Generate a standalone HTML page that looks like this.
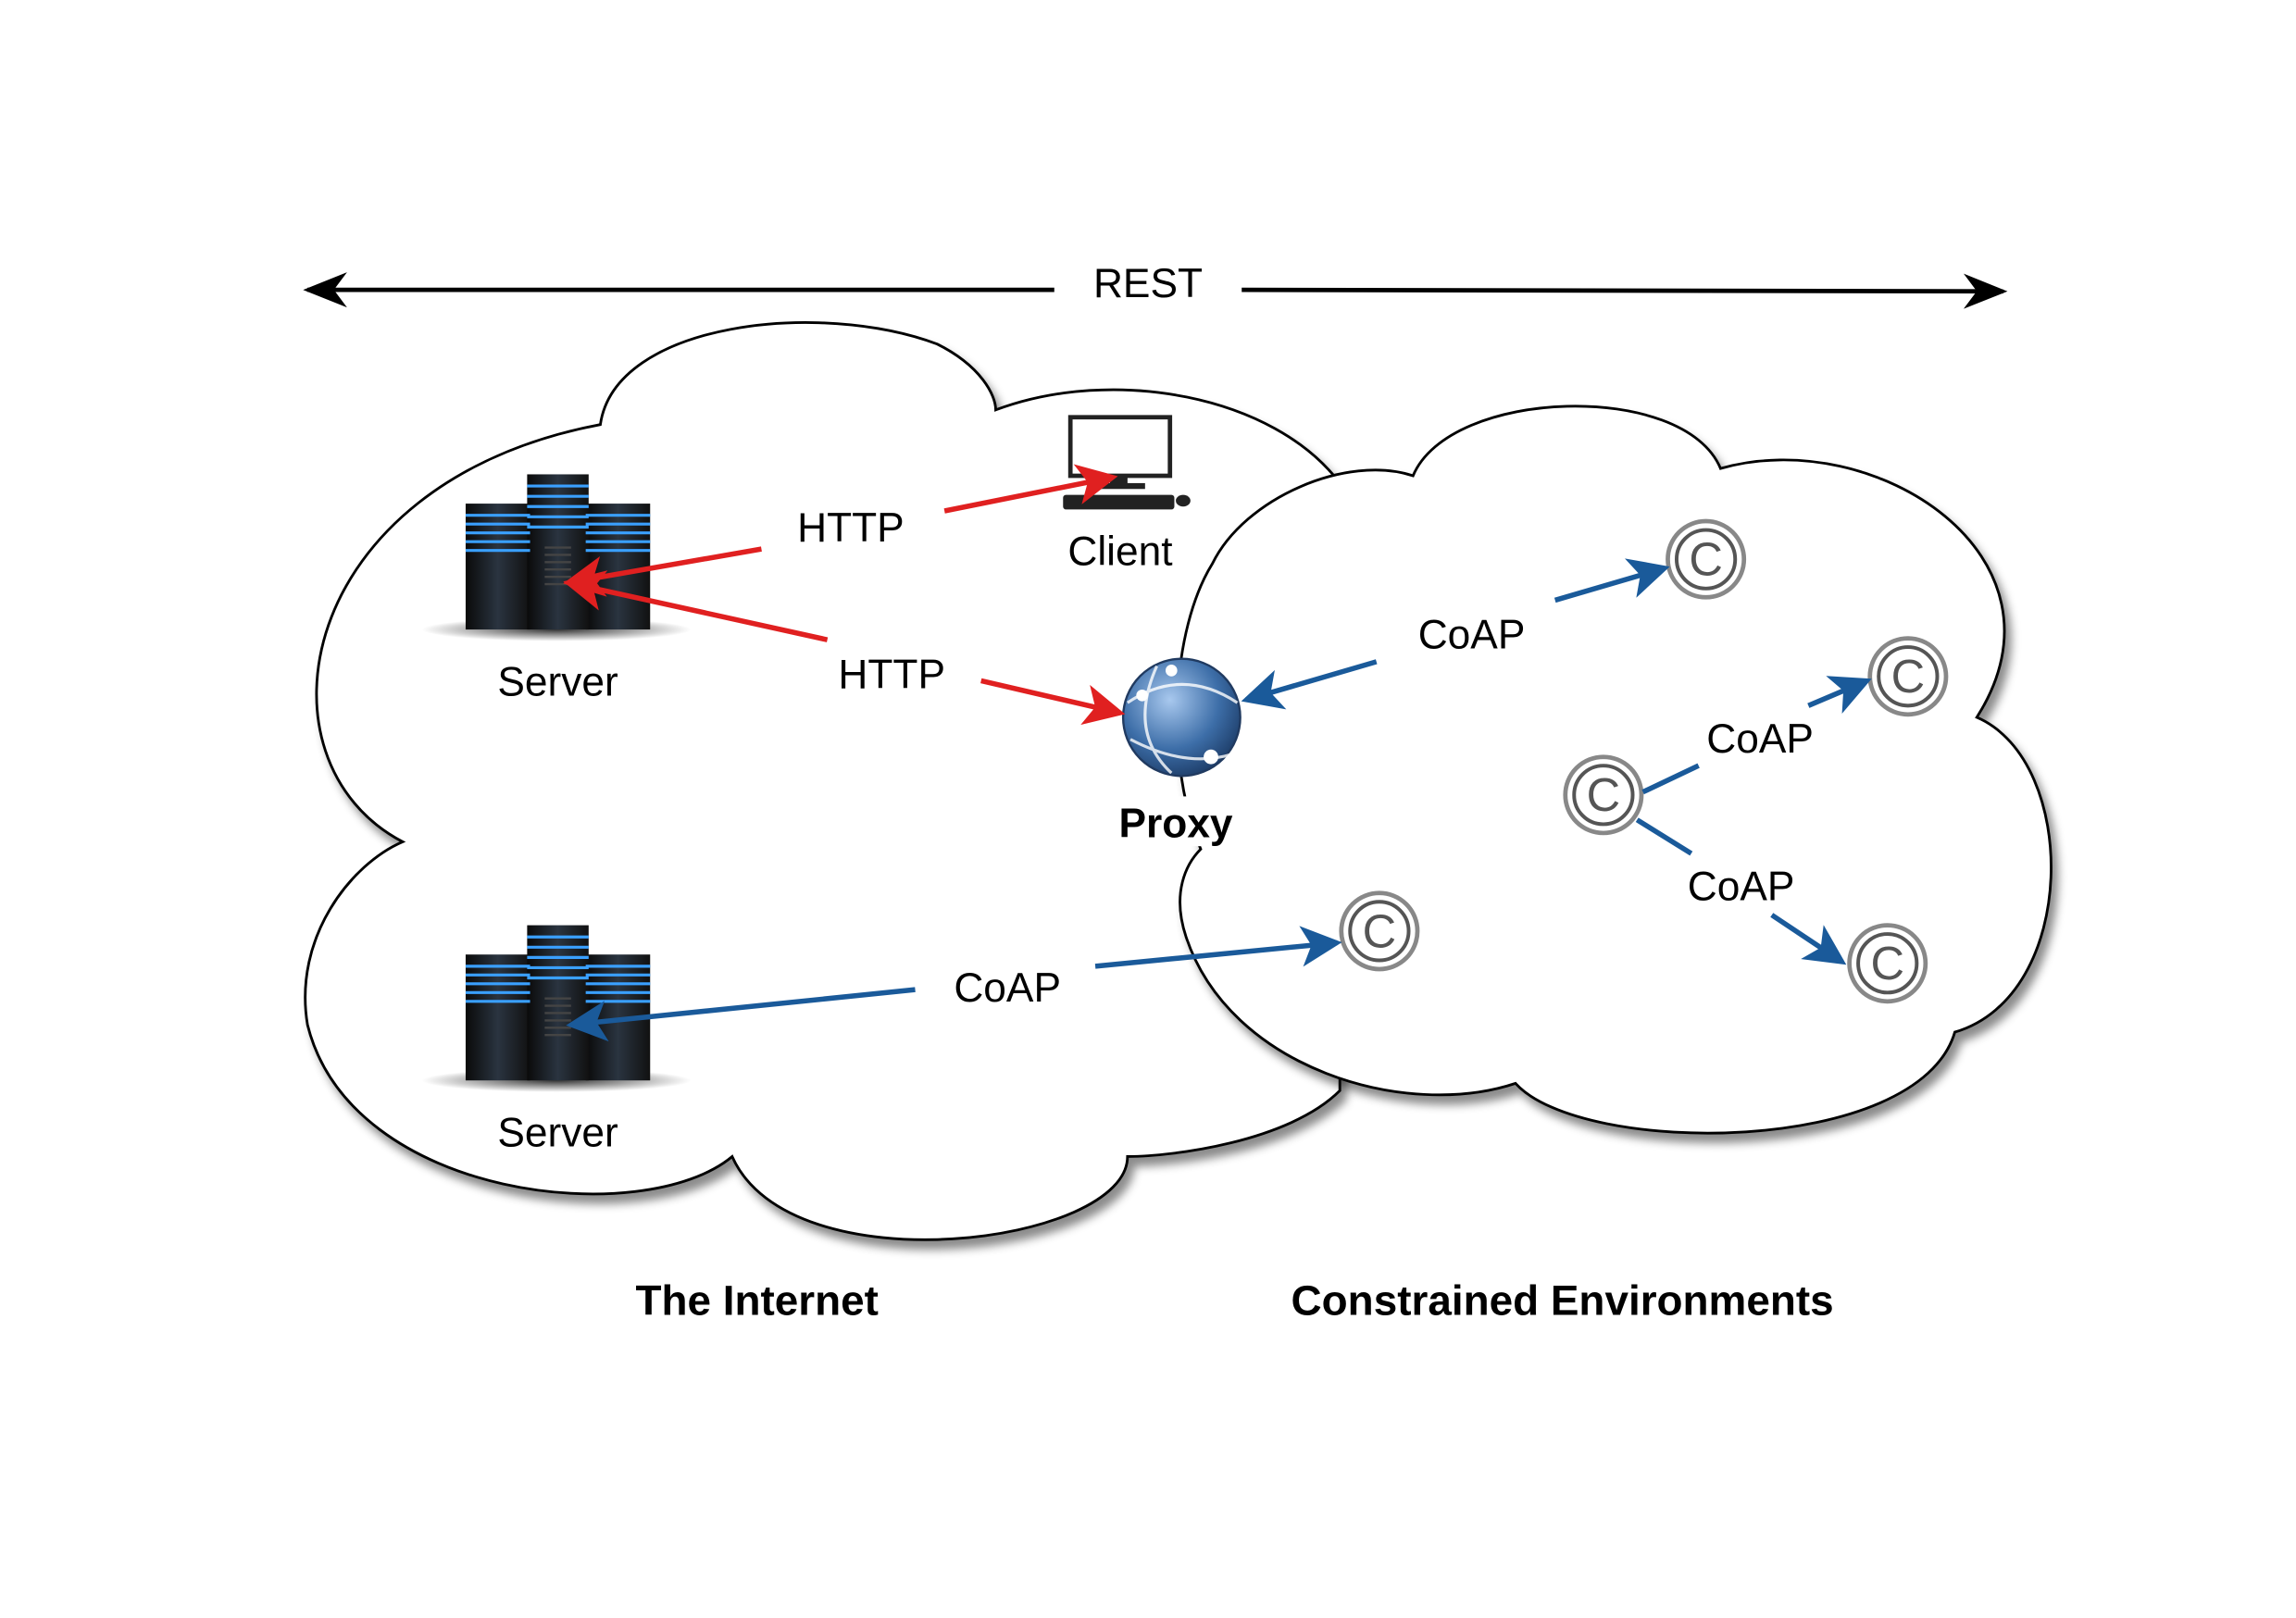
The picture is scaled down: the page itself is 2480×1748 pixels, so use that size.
<!DOCTYPE html>
<html><head><meta charset="utf-8"><style>html,body{margin:0;padding:0;background:#fff}svg{display:block}</style></head><body>
<svg width="2480" height="1748" viewBox="0 0 1568 1105.2" preserveAspectRatio="none" xmlns="http://www.w3.org/2000/svg" font-family="'Liberation Sans', sans-serif">
<defs>
<filter id="sh" x="-10%" y="-10%" width="130%" height="130%"><feDropShadow dx="4" dy="6" stdDeviation="3" flood-color="#000" flood-opacity="0.45"/></filter>
<marker id="ar" markerWidth="8" markerHeight="8" refX="7" refY="4" orient="auto" markerUnits="strokeWidth"><path d="M0,0 L8,4 L0,8 L2,4z" fill="#e02020"/></marker>
<marker id="ab" markerWidth="8" markerHeight="8" refX="7" refY="4" orient="auto" markerUnits="strokeWidth"><path d="M0,0 L8,4 L0,8 L2,4z" fill="#1a5a9a"/></marker>
<marker id="ak" markerWidth="10" markerHeight="8" refX="9" refY="4" orient="auto" markerUnits="strokeWidth"><path d="M0,0 L10,4 L0,8 L3,4z" fill="#000"/></marker>
<linearGradient id="tw" x1="0" x2="1"><stop offset="0" stop-color="#0a0a0a"/><stop offset="0.5" stop-color="#2a3440"/><stop offset="1" stop-color="#111"/></linearGradient>
<radialGradient id="gl" cx="0.4" cy="0.35" r="0.7"><stop offset="0" stop-color="#a8c8ee"/><stop offset="0.6" stop-color="#3d6ea8"/><stop offset="1" stop-color="#1c3b66"/></radialGradient>
<radialGradient id="shd" cx="0.5" cy="0.5" r="0.5"><stop offset="0" stop-color="#000" stop-opacity="0.8"/><stop offset="1" stop-color="#000" stop-opacity="0"/></radialGradient>
<g id="srv">
<ellipse cx="0" cy="48" rx="92" ry="8" fill="url(#shd)"/>
<rect x="-62" y="-38" width="44" height="86" fill="url(#tw)"/>
<rect x="20" y="-38" width="44" height="86" fill="url(#tw)"/>
<rect x="-20" y="-58" width="42" height="106" fill="url(#tw)"/>
<g stroke="#3aa0ff" stroke-width="2">
<path d="M-62,-30h44M-62,-24h44M-62,-18h44M-62,-12h44M-62,-6h44M20,-30h44M20,-24h44M20,-18h44M20,-12h44M20,-6h44M-20,-50h42M-20,-43h42M-20,-36h42M-20,-29h42M-20,-22h42"/>
</g>
<g stroke="#444" stroke-width="1.5"><path d="M-8,-8h18M-8,-3h18M-8,2h18M-8,7h18M-8,12h18M-8,17h18"/></g>
</g>
<g id="cp">
<circle r="26" fill="#fff" stroke="#888" stroke-width="3"/>
<circle r="20" fill="none" stroke="#555" stroke-width="2.5"/>
<text x="0" y="11" text-anchor="middle" font-size="32" fill="#555">C</text>
</g>
</defs>

<line x1="720" y1="198" x2="210" y2="198" stroke="#000" stroke-width="3" marker-end="url(#ak)"/>
<line x1="848" y1="198" x2="1368" y2="199" stroke="#000" stroke-width="3" marker-end="url(#ak)"/>
<text x="784" y="203" text-anchor="middle" font-size="28">REST</text>

<path filter="url(#sh)" fill="#fff" stroke="#000" stroke-width="1.8" d="M410,290 C420,220 560,205 640,235 C670,250 680,270 680,280 C760,250 870,270 915,330 L915,745 C880,780 800,790 770,790 C770,850 540,880 500,790 C440,840 240,820 210,700 C200,640 240,590 275,575 C170,520 200,330 410,290Z"/>
<path filter="url(#sh)" fill="#fff" stroke="#000" stroke-width="1.8" d="M828,385 C850,340 920,310 965,325 C990,265 1150,260 1175,320 C1280,290 1420,380 1350,490 C1420,520 1420,680 1335,705 C1310,790 1080,790 1035,740 C960,765 840,730 810,640 C800,610 810,590 820,580 C795,520 800,430 828,385Z"/>

<use href="#srv" x="380" y="382"/>
<use href="#srv" x="380" y="690"/>
<text x="381" y="475" text-anchor="middle" font-size="28">Server</text>
<text x="381" y="783" text-anchor="middle" font-size="28">Server</text>

<rect x="731" y="285" width="68" height="40" fill="#fff" stroke="#222" stroke-width="3"/>
<rect x="758" y="325" width="12" height="6" fill="#222"/>
<rect x="746" y="330" width="36" height="4" fill="#222"/>
<rect x="726" y="338" width="76" height="10" rx="2" fill="#222"/>
<ellipse cx="808" cy="342" rx="5" ry="4" fill="#222"/>
<text x="765" y="386" text-anchor="middle" font-size="28">Client</text>

<circle cx="807" cy="490" r="40" fill="url(#gl)" stroke="#203a60" stroke-width="1.5"/>
<path d="M770,480 Q807,455 845,480 M772,505 Q810,525 842,515 M790,455 Q770,500 800,528" stroke="#fff" stroke-width="2" fill="none" opacity="0.8"/>
<circle cx="780" cy="475" r="4" fill="#fff"/><circle cx="800" cy="458" r="4" fill="#fff"/><circle cx="827" cy="517" r="5" fill="#fff"/>
<rect x="760" y="544" width="86" height="34" fill="#fff"/>
<text x="803" y="572" text-anchor="middle" font-size="28" font-weight="bold">Proxy</text>

<use href="#cp" x="1165" y="382"/>
<use href="#cp" x="1303" y="462"/>
<use href="#cp" x="1095" y="543"/>
<use href="#cp" x="942" y="636"/>
<use href="#cp" x="1289" y="658"/>

<g stroke="#e02020" stroke-width="3.5" fill="none">
<line x1="645" y1="349" x2="760" y2="326" marker-end="url(#ar)"/>
<line x1="520" y1="375" x2="388" y2="398" marker-end="url(#ar)"/>
<line x1="565" y1="437" x2="388" y2="398" marker-end="url(#ar)"/>
<line x1="670" y1="465" x2="765" y2="487" marker-end="url(#ar)"/>
</g>
<g stroke="#1a5a9a" stroke-width="3.5" fill="none">
<line x1="940" y1="452" x2="851" y2="478" marker-end="url(#ab)"/>
<line x1="1062" y1="410" x2="1137" y2="388" marker-end="url(#ab)"/>
<line x1="1122" y1="541" x2="1160" y2="523"/>
<line x1="1235" y1="482" x2="1275" y2="465" marker-end="url(#ab)"/>
<line x1="1118" y1="560" x2="1155" y2="583"/>
<line x1="1210" y1="625" x2="1258" y2="657" marker-end="url(#ab)"/>
<line x1="748" y1="660" x2="913" y2="644" marker-end="url(#ab)"/>
<line x1="625" y1="676" x2="390" y2="700" marker-end="url(#ab)"/>
</g>

<g font-size="28">
<text x="581" y="370" text-anchor="middle">HTTP</text>
<text x="609" y="470" text-anchor="middle">HTTP</text>
<text x="1005" y="443" text-anchor="middle">CoAP</text>
<text x="1202" y="514" text-anchor="middle">CoAP</text>
<text x="1189" y="615" text-anchor="middle">CoAP</text>
<text x="688" y="684" text-anchor="middle">CoAP</text>
</g>
<text x="517" y="898" text-anchor="middle" font-size="29" font-weight="bold">The Internet</text>
<text x="1067" y="898" text-anchor="middle" font-size="29" font-weight="bold">Constrained Environments</text>
</svg>
</body></html>
